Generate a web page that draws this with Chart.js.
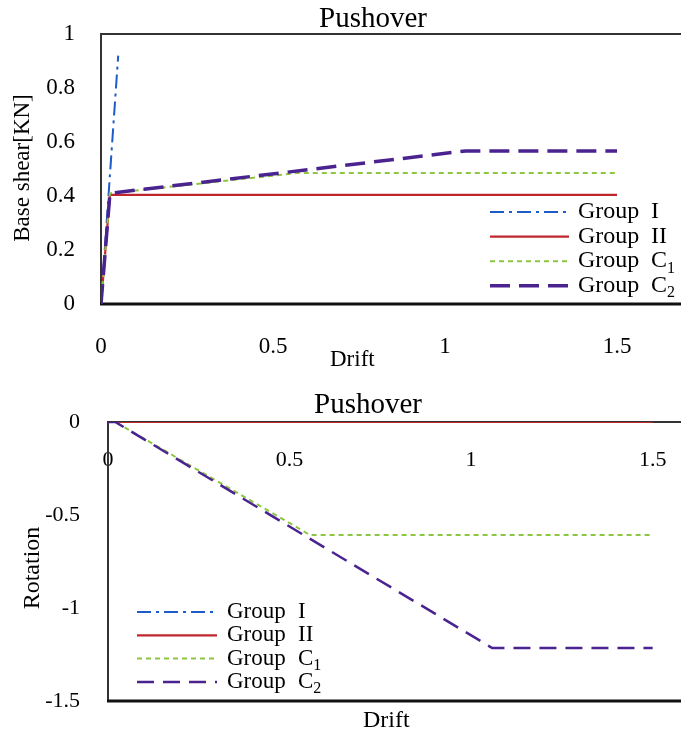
<!DOCTYPE html>
<html>
<head>
<meta charset="utf-8">
<title>Pushover</title>
<script src="https://cdn.jsdelivr.net/npm/chart.js@4.4.0/dist/chart.umd.min.js"></script>
<style>
  html, body { margin: 0; padding: 0; background: #fff; }
  #wrap { position: relative; width: 681px; height: 734px; overflow: hidden; }
  canvas { position: absolute; left: 0; }
  #shearChart { top: 0; }
  #rotationChart { top: 372px; }
</style>
</head>
<body>
<div id="wrap">
  <canvas id="shearChart" width="681" height="372"></canvas>
  <canvas id="rotationChart" width="681" height="362"></canvas>
</div>
<script>
// Pushover curves for the four specimen groups

const groupNames = ['Group I', 'Group II', 'Group C\u2081', 'Group C\u2082'];
const groupMarks = ['I', 'II', 'C', 'C'];
const groupSubs = ['', '', '1', '2'];

// base shear [KN] against drift
const shearDriftI = [0, 0.05];
const shearValuesI = [0, 0.92];
const shearDriftII = [0, 0.026, 1.5];
const shearValuesII = [0, 0.404, 0.404];
const shearDriftC1 = [0, 0.026, 0.57, 1.5];
const shearValuesC1 = [0, 0.41, 0.485, 0.485];
const shearDriftC2 = [0, 0.026, 1.06, 1.5];
const shearValuesC2 = [0, 0.41, 0.567, 0.567];

// rotation against drift
const rotDriftI = [0, 1.5];
const rotValuesI = [0, 0];
const rotDriftII = [0, 1.5];
const rotValuesII = [0, 0];
const rotDriftC1 = [0, 0.02, 0.556, 1.5];
const rotValuesC1 = [0, 0, -0.607, -0.607];
const rotDriftC2 = [0, 0.02, 1.058, 1.5];
const rotValuesC2 = [0, 0, -1.215, -1.215];

// tick labels
const driftTicks = [0, 0.5, 1, 1.5];
const shearTicks = [0, 0.2, 0.4, 0.6, 0.8, 1];
const rotationTicks = [0, -0.5, -1, -1.5];

const serif = '"Liberation Serif", "Times New Roman", serif';
const groupColors = ['#1c5cc7', '#c0272d', '#8dc63f', '#4a2390'];

const pts = (xs, ys) => xs.map((x, i) => ({ x: x, y: ys[i] }));

const makeDatasets = (series, widths, dashes) => series.map((s, i) => ({
    label: groupNames[i],
    data: pts(s[0], s[1]),
    borderColor: groupColors[i],
    borderWidth: widths[i],
    borderDash: dashes[i],
    pointRadius: 0,
    tension: 0,
    fill: false,
    order: 4 - i
}));

// frame, title, captions and legend are painted by hand
const decorations = {
    id: 'decorations',
    beforeDatasetsDraw(chart, args, opts) {
        const { ctx, chartArea: a, width } = chart;
        ctx.save();
        ctx.strokeStyle = '#333';
        ctx.lineWidth = 2;
        ctx.beginPath();
        ctx.moveTo(width, a.top);
        ctx.lineTo(a.left, a.top);
        ctx.lineTo(a.left, a.bottom);
        ctx.stroke();
        ctx.strokeStyle = '#111';
        ctx.lineWidth = 3;
        ctx.beginPath();
        ctx.moveTo(a.left - 1, a.bottom);
        ctx.lineTo(width, a.bottom);
        ctx.stroke();
        ctx.restore();
    },
    afterDraw(chart, args, opts) {
        const ctx = chart.ctx;
        ctx.save();
        ctx.fillStyle = '#000';

        ctx.font = opts.titleSize + 'px ' + serif;
        ctx.textAlign = 'center';
        ctx.textBaseline = 'alphabetic';
        ctx.fillText(opts.title, opts.titleX, opts.titleY);

        ctx.font = opts.captionSize + 'px ' + serif;
        ctx.textAlign = 'left';
        ctx.fillText(opts.xCaption, opts.xCaptionX, opts.xCaptionY);

        ctx.save();
        ctx.translate(opts.yCaptionX, opts.yCaptionY);
        ctx.rotate(-Math.PI / 2);
        ctx.textAlign = 'center';
        ctx.textBaseline = 'middle';
        ctx.fillText(opts.yCaption, 0, 0);
        ctx.restore();

        const lg = opts.legend;
        chart.data.datasets.forEach((ds, i) => {
            const y = lg.y + i * lg.rowGap;
            ctx.save();
            ctx.strokeStyle = ds.borderColor;
            ctx.lineWidth = ds.borderWidth;
            ctx.setLineDash(ds.borderDash || []);
            ctx.beginPath();
            ctx.moveTo(lg.x, y);
            ctx.lineTo(lg.x + lg.sample, y);
            ctx.stroke();
            ctx.restore();

            ctx.font = lg.size + 'px ' + serif;
            ctx.textAlign = 'left';
            ctx.textBaseline = 'middle';
            const tx = lg.x + lg.sample + lg.gap;
            ctx.fillText('Group', tx, y);
            const mx = tx + lg.markOffset;
            ctx.fillText(groupMarks[i], mx, y);
            if (groupSubs[i]) {
                const w = ctx.measureText(groupMarks[i]).width;
                ctx.font = Math.round(lg.size * 0.68) + 'px ' + serif;
                ctx.fillText(groupSubs[i], mx + w, y + lg.size * 0.3);
            }
        });
        ctx.restore();
    }
};

// no extra room for half-labels at the ends of an axis
const noEdgePadding = (scale) => {
    scale.paddingTop = 0;
    scale.paddingBottom = 0;
    scale.paddingLeft = 0;
    scale.paddingRight = 0;
};

const tickAxis = (values, fontSize, padding, extra) => Object.assign({
    type: 'linear',
    grid: { display: false, drawTicks: false },
    border: { display: false },
    afterBuildTicks: (scale) => { scale.ticks = values.map(v => ({ value: v })); },
    ticks: {
        color: '#000',
        padding: padding,
        font: { family: serif, size: fontSize, lineHeight: 1.2 },
        callback: (v) => String(v)
    }
}, extra);

const baseOptions = () => ({
    responsive: false,
    animation: false,
    devicePixelRatio: 1,
    plugins: { legend: { display: false }, tooltip: { enabled: false } }
});

// top chart: base shear
const shearOptions = baseOptions();
shearOptions.layout = { padding: { top: 34, right: 0, bottom: 0, left: 0 } };
shearOptions.scales = {
    x: tickAxis(driftTicks, 23, 29, {
        position: 'bottom', min: 0, max: 1.686,
        afterFit: (scale) => { noEdgePadding(scale); scale.height = 68; }
    }),
    y: tickAxis(shearTicks, 23, 26, {
        position: 'left', min: 0, max: 1,
        afterFit: (scale) => { noEdgePadding(scale); scale.width = 101; }
    })
};
shearOptions.plugins.decorations = {
    title: 'Pushover', titleSize: 29, titleX: 373, titleY: 27,
    xCaption: 'Drift', xCaptionX: 330, xCaptionY: 366, captionSize: 23,
    yCaption: 'Base shear[KN]', yCaptionX: 23, yCaptionY: 168,
    legend: { x: 490, y: 212, rowGap: 24.6, sample: 79, gap: 9, size: 24, markOffset: 73 }
};

new Chart(document.getElementById('shearChart'), {
    type: 'line',
    data: {
        datasets: makeDatasets(
            [[shearDriftI, shearValuesI], [shearDriftII, shearValuesII],
             [shearDriftC1, shearValuesC1], [shearDriftC2, shearValuesC2]],
            [2, 2.2, 2, 3.5],
            [[14, 5, 3, 5], [], [5, 4], [20, 9]]
        )
    },
    options: shearOptions,
    plugins: [decorations]
});

// bottom chart: rotation, drift axis crosses at zero
const rotationOptions = baseOptions();
rotationOptions.layout = { padding: { top: 50, right: 0, bottom: 33, left: 0 } };
rotationOptions.scales = {
    x: tickAxis(driftTicks, 22, 25, {
        position: { y: 0 }, min: 0, max: 1.578,
        afterFit: noEdgePadding
    }),
    y: tickAxis(rotationTicks, 22, 28, {
        position: 'left', min: -1.5, max: 0,
        afterFit: (scale) => { noEdgePadding(scale); scale.width = 108; }
    })
};
rotationOptions.plugins.decorations = {
    title: 'Pushover', titleSize: 29, titleX: 368, titleY: 41,
    xCaption: 'Drift', xCaptionX: 363, xCaptionY: 355, captionSize: 24,
    yCaption: 'Rotation', yCaptionX: 33, yCaptionY: 196,
    legend: { x: 137, y: 240, rowGap: 23.3, sample: 80, gap: 10, size: 23, markOffset: 71 }
};

new Chart(document.getElementById('rotationChart'), {
    type: 'line',
    data: {
        datasets: makeDatasets(
            [[rotDriftI, rotValuesI], [rotDriftII, rotValuesII],
             [rotDriftC1, rotValuesC1], [rotDriftC2, rotValuesC2]],
            [2, 2.2, 2, 2.5],
            [[14, 5, 3, 5], [], [5, 4], [17, 9]]
        )
    },
    options: rotationOptions,
    plugins: [decorations]
});
</script>
</body>
</html>
